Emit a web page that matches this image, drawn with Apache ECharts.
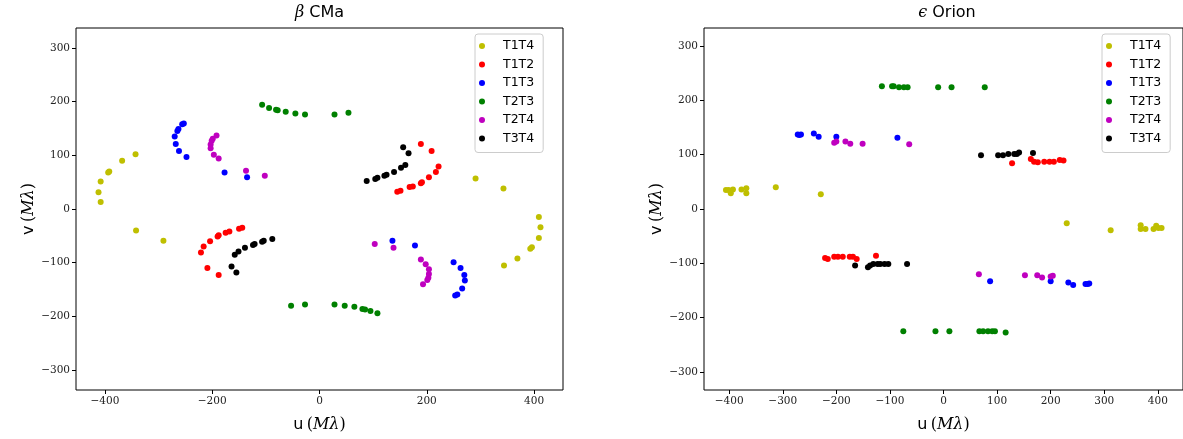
<!DOCTYPE html>
<html>
<head>
<meta charset="utf-8">
<script src="https://cdn.jsdelivr.net/npm/echarts@6/dist/echarts.min.js"></script>
<style>html,body{margin:0;padding:0;background:#fff;}#c{width:1183px;height:439px;}</style>
</head>
<body>
<div id="c"></div>
<script>
// ---- data ----
var seriesNames = ['T1T4', 'T1T2', 'T1T3', 'T2T3', 'T2T4', 'T3T4'];
var seriesColors = ['#bfbf00', '#ff0000', '#0000ff', '#008000', '#bf00bf', '#000000'];

var leftTitle = 'β CMa';
var rightTitle = 'ϵ Orion';

var leftXTicks = [-400, -200, 0, 200, 400];
var leftYTicks = [-300, -200, -100, 0, 100, 200, 300];
var rightXTicks = [-400, -300, -200, -100, 0, 100, 200, 300, 400];
var rightYTicks = [-300, -200, -100, 0, 100, 200, 300];

// beta CMa (u, v) in M lambda
var cmaT1T4 = [[-343,102],[-368,90],[-392,70],[-394,68],[-408,51],[-412,31],[-408,13],[-342,-40],[-291,-59],
  [291,57],[343,38],[409,-15],[412,-34],[409,-54],[396,-71],[393,-74],[369,-92],[344,-105]];
var cmaT1T2 = [[-221,-81],[-216,-70],[-204,-60],[-190,-51],[-188,-49],[-175,-44],[-168,-42],[-150,-37],[-144,-35],[-209,-110],[-188,-123],
  [145,32],[151,34],[168,41],[174,42],[189,48],[191,50],[204,59],[217,69],[222,79],[209,108],[189,121]];
var cmaT1T3 = [[-253,159],[-256,158],[-263,149],[-265,145],[-270,135],[-268,121],[-262,108],[-248,97],[-177,68],[-135,59],
  [136,-59],[178,-68],[250,-99],[263,-110],[270,-123],[271,-133],[266,-148],[257,-159],[253,-161]];
var cmaT2T3 = [[-107,194],[-94,188],[-81,185],[-78,184],[-63,181],[-45,178],[-27,176],[28,176],[54,179],
  [-53,-180],[-27,-178],[28,-178],[47,-180],[65,-182],[80,-186],[85,-187],[95,-190],[108,-194]];
var cmaT2T4 = [[-192,137],[-199,131],[-201,127],[-203,120],[-203,113],[-197,101],[-188,94],[-137,71],[-102,62],
  [103,-65],[138,-72],[189,-94],[198,-103],[204,-112],[204,-121],[203,-128],[201,-132],[193,-140]];
var cmaT3T4 = [[88,52],[104,56],[108,58],[121,62],[125,64],[139,69],[152,77],[160,82],[166,104],[156,115],
  [-88,-56],[-104,-59],[-107,-61],[-121,-65],[-124,-67],[-139,-72],[-151,-79],[-158,-85],[-164,-107],[-155,-118]];

// epsilon Orion (u, v) in M lambda
var oriT1T4 = [[-406,35],[-401,35],[-397,29],[-393,36],[-377,36],[-368,38],[-368,29],[-313,40],[-229,27],
  [230,-26],[312,-39],[368,-30],[368,-37],[377,-37],[392,-37],[397,-31],[401,-35],[407,-35]];
var oriT1T2 = [[-221,-90],[-216,-92],[-204,-88],[-197,-88],[-188,-88],[-175,-88],[-169,-88],[-162,-92],[-126,-86],
  [128,84],[163,92],[169,87],[176,86],[188,87],[198,87],[206,87],[217,90],[224,89]];
var oriT1T3 = [[-272,137],[-269,136],[-266,137],[-242,139],[-233,133],[-200,133],[-86,131],
  [87,-133],[200,-133],[233,-135],[242,-140],[265,-138],[269,-138],[272,-137]];
var oriT2T3 = [[-115,226],[-96,226],[-93,226],[-83,224],[-74,224],[-67,224],[-10,224],[15,224],[77,224],
  [-75,-225],[-15,-225],[11,-225],[67,-225],[74,-225],[83,-225],[91,-225],[96,-225],[116,-227]];
var oriT2T4 = [[-204,122],[-200,124],[-183,124],[-174,120],[-151,120],[-64,119],
  [66,-120],[152,-122],[175,-122],[184,-126],[200,-124],[204,-123]];
var oriT3T4 = [[-165,-104],[-141,-107],[-137,-104],[-131,-101],[-123,-101],[-118,-101],[-110,-101],[-103,-101],[-68,-101],
  [70,99],[102,99],[111,99],[121,101],[132,101],[137,101],[141,104],[167,103]];

var leftData = [cmaT1T4, cmaT1T2, cmaT1T3, cmaT2T3, cmaT2T4, cmaT3T4];
var rightData = [oriT1T4, oriT1T2, oriT1T3, oriT2T3, oriT2T4, oriT3T4];

// ---- chart ----
function fmt(v) { return v < 0 ? '\u2212' + (-v) : String(v); }
var serif = 'DejaVu Serif';
var sans = 'DejaVu Sans';

function nameRich() {
  return { rich: {
    s: { fontFamily: sans, fontSize: 16, color: '#000', fontWeight: 'normal' },
    p: { fontFamily: serif, fontSize: 16, color: '#000', fontWeight: 'normal' },
    m: { fontFamily: serif, fontStyle: 'italic', fontSize: 16, color: '#000', fontWeight: 'normal' } } };
}
function makeAxis(grid, min, max, ticks, letter, gap) {
  return {
    type: 'value', gridIndex: grid, min: min, max: max,
    name: '{s|' + letter + '} {p|(}{m|Mλ}{p|)}', nameLocation: 'middle', nameGap: gap,
    nameTextStyle: nameRich(),
    axisLine: { show: false, onZero: false },
    splitLine: { show: false },
    axisTick: { show: true, inside: false, length: 4, customValues: ticks, lineStyle: { color: '#000', width: 1 } },
    axisLabel: { customValues: ticks, formatter: fmt, fontFamily: serif, fontSize: 10.5, color: '#222', margin: 6 }
  };
}
function makeLegend(left) {
  return {
    left: left, top: 34, orient: 'vertical', data: seriesNames,
    icon: 'circle', itemWidth: 32, itemHeight: 6, itemGap: 4.5,
    padding: [5, 9, 7, 4],
    backgroundColor: 'rgba(255,255,255,0.8)', borderColor: '#cccccc', borderWidth: 1, borderRadius: 3,
    textStyle: { fontFamily: sans, fontSize: 12.5, lineHeight: 14, color: '#000' }
  };
}
function makeTitle(text, x, greek) {
  return {
    text: '{g|' + greek + '} {t|' + text + '}', left: x, top: 4, textAlign: 'center', padding: 0,
    textStyle: { fontWeight: 'normal', rich: {
      g: { fontFamily: serif, fontStyle: 'italic', fontSize: 16, color: '#000', fontWeight: 'normal' },
      t: { fontFamily: sans, fontSize: 16, color: '#000', fontWeight: 'normal' } } }
  };
}

var series = [];
seriesNames.forEach(function (n, i) {
  series.push({ name: n, type: 'scatter', xAxisIndex: 0, yAxisIndex: 0, data: leftData[i],
    symbol: 'circle', symbolSize: 6, itemStyle: { color: seriesColors[i], opacity: 1 }, animation: false });
});
seriesNames.forEach(function (n, i) {
  series.push({ name: n, type: 'scatter', xAxisIndex: 1, yAxisIndex: 1, data: rightData[i],
    symbol: 'circle', symbolSize: 6, itemStyle: { color: seriesColors[i], opacity: 1 }, animation: false });
});

var chart = echarts.init(document.getElementById('c'), null, { renderer: 'canvas' });
chart.setOption({
  animation: false,
  backgroundColor: '#ffffff',
  title: [makeTitle('CMa', 319.5, 'β'), makeTitle('Orion', 947, 'ϵ')],
  legend: [makeLegend(475), makeLegend(1102)],
  grid: [
    { left: 76, top: 28, width: 487, height: 362, show: true, borderColor: '#000', borderWidth: 1, backgroundColor: 'transparent' },
    { left: 704, top: 28, width: 486, height: 362, show: true, borderColor: '#000', borderWidth: 1, backgroundColor: 'transparent' }
  ],
  xAxis: [makeAxis(0, -454, 454, leftXTicks, 'u', 27), makeAxis(1, -447, 447, rightXTicks, 'u', 27)],
  yAxis: [makeAxis(0, -337, 337, leftYTicks, 'v', 38), makeAxis(1, -333, 333, rightYTicks, 'v', 38)],
  series: series
});
</script>
</body>
</html>
